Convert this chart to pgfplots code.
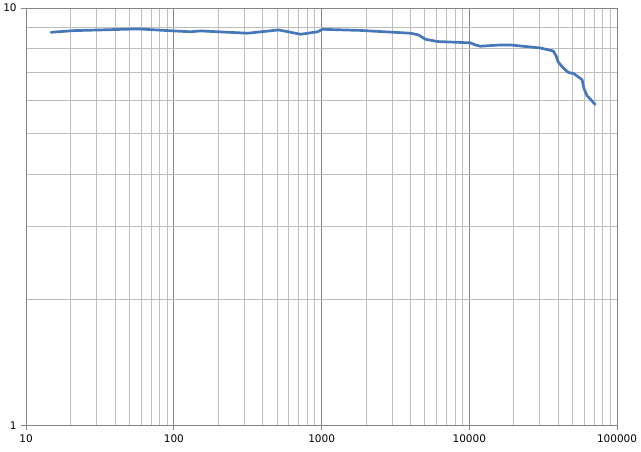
\documentclass[border=0pt]{standalone}
\usepackage{pgfplots}
\pgfplotsset{compat=1.18}
\usepackage{fontspec}
\setmainfont{DejaVu Sans}
\definecolor{linecol}{HTML}{4677B8}
\definecolor{majgrid}{HTML}{868686}
\definecolor{mingrid}{HTML}{BEBEBE}
\definecolor{axcol}{HTML}{868686}
\begin{document}
\begin{tikzpicture}
\begin{axis}[
  scale only axis,
  width=592pt, height=418pt,
  xmode=log, ymode=log,
  xmin=10, xmax=100000, ymin=1, ymax=10,
  xtick={10,100,1000,10000,100000},
  xticklabels={10,100,1000,10000,100000},
  ytick={1,10},
  yticklabels={1,10},
  grid=both,
  major grid style={color=majgrid, line width=0.8pt},
  minor grid style={color=mingrid, line width=0.8pt},
  axis line style={color=axcol, line width=0.8pt},
  tick style={color=axcol, line width=0.8pt},
  tick align=outside,
  major tick length=5pt,
  minor tick length=0pt,
  xtick pos=bottom, ytick pos=left,
  tick label style={font=\fontsize{10.5}{12}\selectfont, text=black},
  xticklabel style={yshift=-1pt},
  yticklabel style={xshift=-1pt},
]
\addplot[color=linecol, line width=2.7pt, line join=round, line cap=round] coordinates {
(14.75,8.746) (21.1,8.826) (32.1,8.86) (57.1,8.91) (100,8.81) (130,8.77)
(152,8.81) (316,8.70) (512,8.86) (721,8.65) (940,8.77) (1016,8.89)
(1834,8.835) (3992,8.70) (4520,8.62) (5042,8.415) (6080,8.31) (10160,8.25)
(10980,8.155) (11870,8.097) (16190,8.155) (18920,8.155) (30200,8.02)
(36950,7.89) (38720,7.677) (39920,7.43) (43150,7.186) (46670,7.01)
(51220,6.955) (58000,6.73) (59840,6.40) (62700,6.16) (66700,6.02) (71000,5.875)
};
\end{axis}
\path ([xshift=-25pt,yshift=-26pt]current axis.south west) rectangle ([xshift=24pt,yshift=8pt]current axis.north east);
\end{tikzpicture}
\end{document}
